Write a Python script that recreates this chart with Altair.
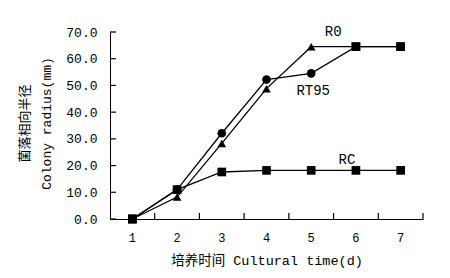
import altair as alt
import pandas as pd

days = [1, 2, 3, 4, 5, 6, 7]
r0 = [0.0, 8.2, 28.3, 48.8, 64.5, 64.5, 64.5]
rt95 = [0.0, 11.0, 32.1, 52.2, 54.5, 64.5, 64.5]
rc = [0.0, 11.0, 17.6, 18.2, 18.2, 18.2, 18.2]
series_names = ["R0", "RT95", "RC"]
series_shapes = ["triangle-up", "circle", "square"]
square_days = [1, 6, 7]  # days where the converged points are drawn as squares
y_ticks = [0, 10, 20, 30, 40, 50, 60, 70]

label_text = ["R0", "RT95", "RC"]
label_day = ["5", "5", "6"]
label_val = [70.0, 48.0, 22.0]
label_dx = [22, 2, -9]

FONT = "'Liberation Mono', 'Courier New', 'Noto Sans CJK SC'"
PLOT_W, PLOT_H, TICK = 313, 187, 6

rows = []
for name, shape, vals in zip(series_names, series_shapes, [r0, rt95, rc]):
    for d, v in zip(days, vals):
        rows.append({
            "series": name,
            "day": str(d),
            "value": v,
            "marker": "square" if d in square_days else shape,
        })
df = pd.DataFrame(rows)

labels = pd.DataFrame({"text": label_text, "day": label_day, "value": label_val})

xscale = alt.Scale(type="band", domain=[str(d) for d in days], paddingInner=0, paddingOuter=0)
yscale = alt.Scale(domain=[0, 70], nice=False, zero=True)

xaxis = alt.Axis(
    title="培养时间 Cultural time(d)", labelAngle=0, ticks=False,
    labelPadding=13, titlePadding=10,
    domainColor="black", labelColor="black", titleColor="black",
    labelFont=FONT, titleFont=FONT, labelFontSize=12, titleFontSize=13.5,
    titleFontWeight="normal", grid=False, labelOverlap=False,
)
yaxis = alt.Axis(
    title=["菌落相向半径", "Colony radius(mm)"], values=y_ticks,
    format=".1f", ticks=False, labelPadding=13, labelOverlap=False,
    domainColor="black", labelColor="black", titleColor="black",
    labelFont=FONT, titleFont=FONT, labelFontSize=13, titleFontSize=13,
    titleFontWeight="normal", grid=False,
    titleX=-92, titleY=91, titleAngle=270, titleAlign="center", titleBaseline="top",
    titleLineHeight=22,
)

X = alt.X("day:O", scale=xscale, axis=xaxis)
Y = alt.Y("value:Q", scale=yscale, axis=yaxis)

base = alt.Chart(df)
lines = base.mark_line(color="black", strokeWidth=1.3).encode(
    x=X, y=Y, detail="series:N",
)
points = base.mark_point(filled=True, color="black", opacity=1, size=75).encode(
    x=X, y=Y, shape=alt.Shape("marker:N", scale=None),
)
text_layers = []
for t, dx in zip(label_text, label_dx):
    text_layers.append(
        alt.Chart(labels).transform_filter(alt.datum.text == t)
        .mark_text(font=FONT, fontSize=14, color="black", dx=dx)
        .encode(x=X, y=Y, text="text:N")
    )

# inward axis ticks drawn as short rules
ytick_df = pd.DataFrame({"value": y_ticks})
xtick_df = pd.DataFrame({"day": [str(d) for d in days]})
yticks = alt.Chart(ytick_df).mark_rule(color="black", strokeWidth=1.2).encode(
    y=Y, x=alt.value(0), x2=alt.value(TICK),
)
xticks = alt.Chart(xtick_df).mark_rule(color="black", strokeWidth=1.2).encode(
    x=alt.X("day:O", scale=xscale, axis=xaxis, bandPosition=1),
    y=alt.value(PLOT_H), y2=alt.value(PLOT_H - TICK),
)

chart = alt.layer(lines, points, *text_layers, yticks, xticks).properties(
    width=PLOT_W, height=PLOT_H,
    autosize=alt.AutoSizeParams(type="none"),
    padding={"left": 110, "top": 32, "right": 27, "bottom": 59},
    background="white",
).configure_view(stroke=None)

chart.save("out.html", embed_options={"renderer": "svg", "actions": False})
